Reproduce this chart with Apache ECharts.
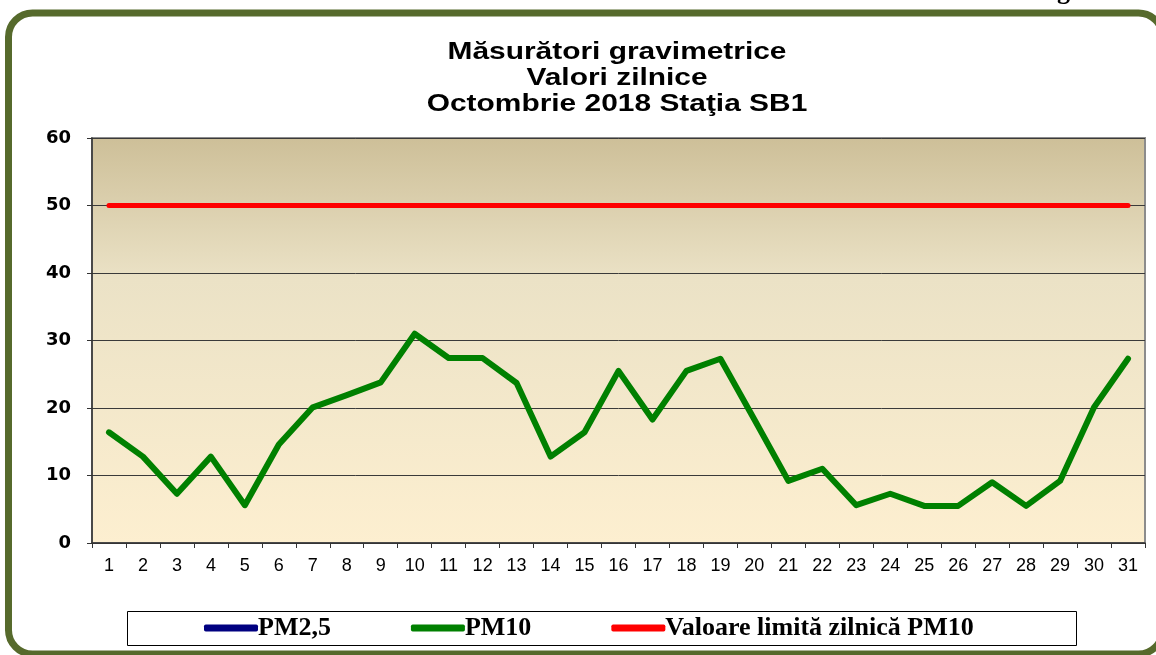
<!DOCTYPE html>
<html>
<head>
<meta charset="utf-8">
<title>Măsurători gravimetrice</title>
<script src="https://cdn.jsdelivr.net/npm/echarts@6/dist/echarts.min.js"></script>
<style>
    html, body { margin: 0; padding: 0; background: #fff; }
    #chart { width: 1156px; height: 655px; }
</style>
</head>
<body>
<div id="chart"></div>
<script>
// zilele lunii
var days = ['1','2','3','4','5','6','7','8','9','10','11','12','13','14','15','16',
            '17','18','19','20','21','22','23','24','25','26','27','28','29','30','31'];
// PM2,5 - fara valori in grafic
var pm25 = [];
// PM10 valori zilnice
var pm10 = [16.4, 12.8, 7.3, 12.8, 5.6, 14.6, 20.1, 21.9, 23.8, 31.0, 27.4, 27.4, 23.7, 12.8, 16.4, 25.5,
            18.3, 25.5, 27.3, 18.3, 9.2, 11.0, 5.6, 7.3, 5.5, 5.5, 9.0, 5.5, 9.2, 20.1, 27.3];
// valoare limita zilnica PM10
var limita = [50, 50, 50, 50, 50, 50, 50, 50, 50, 50, 50, 50, 50, 50, 50, 50,
              50, 50, 50, 50, 50, 50, 50, 50, 50, 50, 50, 50, 50, 50, 50];
var yTicks = ['0', '10', '20', '30', '40', '50', '60'];
var titleLines = ['Măsurători gravimetrice', 'Valori zilnice', 'Octombrie 2018 Staţia SB1'];

// titlul, pe trei randuri (textul e putin latit ca in original)
var titleGraphics = titleLines.map(function (t, i) {
    return {
        type: 'text',
        x: 617,
        y: 53 + i * 25.8,
        scaleX: 1.3,
        z: 10,
        style: {
            text: t,
            font: 'bold 23px "Liberation Sans"',
            fill: '#000',
            align: 'center',
            verticalAlign: 'middle'
        }
    };
});

var chart = echarts.init(document.getElementById('chart'));
var option = {
    backgroundColor: '#fff',
    animation: false,
    graphic: [
        {   // chenarul exterior
            type: 'rect',
            z: -10,
            shape: { x: 8.5, y: 13, width: 1154, height: 641, r: 24 },
            style: { fill: '#fff', stroke: '#566a2c', lineWidth: 7 }
        },
        {
            type: 'text',
            z: -5,
            x: 1034,
            y: -21,
            style: {
                text: 'Fig. 43',
                font: 'bold 26px "Liberation Serif"',
                fill: '#000'
            }
        },
        {   // chenarul legendei
            type: 'rect',
            z: 1,
            shape: { x: 127.5, y: 611.5, width: 949, height: 34 },
            style: { fill: '#fff', stroke: '#000', lineWidth: 1 }
        }
    ].concat(titleGraphics),
    color: ['#000080', '#008000', '#ff0000'],
    legend: {
        z: 5,
        left: 204,
        top: 615,
        padding: 0,
        itemGap: 80,
        itemWidth: 54,
        itemHeight: 7,
        icon: 'roundRect',
        data: ['PM2,5', 'PM10', 'Valoare limită zilnică PM10'],
        textStyle: {
            fontFamily: 'Liberation Serif',
            fontSize: 26,
            fontWeight: 'bold',
            color: '#000',
            padding: [0, 0, 0, -5]
        }
    },
    grid: {
        left: 92,
        right: 11,
        top: 138,
        bottom: 112,
        show: true,
        borderColor: '#8c8c8c',
        borderWidth: 2,
        backgroundColor: new echarts.graphic.LinearGradient(0, 0, 0, 1, [
            { offset: 0, color: '#cdbf98' },
            { offset: 0.35, color: '#ebe2c6' },
            { offset: 1, color: '#fdefd0' }
        ])
    },
    xAxis: {
        type: 'category',
        data: days,
        boundaryGap: true,
        axisLine: { lineStyle: { color: '#333', width: 1.5 } },
        axisTick: { show: true, interval: 0, length: 5, lineStyle: { color: '#333' } },
        axisLabel: {
            interval: 0,
            margin: 14,
            color: '#000',
            fontFamily: 'Liberation Sans',
            fontSize: 18
        }
    },
    yAxis: {
        type: 'value',
        min: 0,
        max: 60,
        interval: 10,
        axisLine: { show: true, lineStyle: { color: '#333', width: 1.5 } },
        axisTick: { show: true, length: 5, lineStyle: { color: '#333' } },
        axisLabel: {
            margin: 21,
            color: '#000',
            fontFamily: 'DejaVu Sans',
            fontSize: 18,
            fontWeight: 'bold',
            formatter: function (v) { return yTicks[v / 10]; }
        },
        splitLine: { show: true, lineStyle: { color: '#3a3a3a', width: 1 } }
    },
    series: [
        {
            name: 'PM2,5',
            type: 'line',
            data: pm25,
            showSymbol: false,
            lineStyle: { width: 6, color: '#000080' }
        },
        {
            name: 'PM10',
            type: 'line',
            data: pm10,
            showSymbol: false,
            lineStyle: { width: 6, color: '#008000', cap: 'round', join: 'round' },
            z: 4
        },
        {
            name: 'Valoare limită zilnică PM10',
            type: 'line',
            data: limita,
            showSymbol: false,
            lineStyle: { width: 5, color: '#ff0000', cap: 'round' },
            z: 3
        }
    ]
};
chart.setOption(option);
window.addEventListener('resize', function () {
    chart.resize();
});
</script>
</body>
</html>
